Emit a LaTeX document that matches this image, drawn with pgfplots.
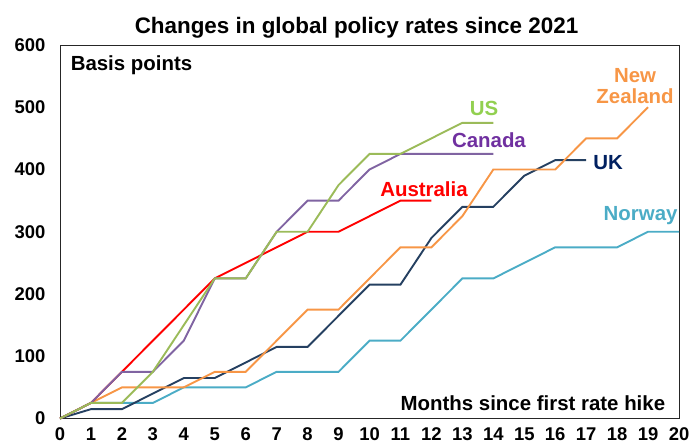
\documentclass[border=0pt]{standalone}
\usepackage{pgfplots}
\pgfplotsset{compat=1.18}
\usepackage{fontspec}
\setmainfont{Liberation Sans}
\definecolor{cUS}{HTML}{9BBB59}
\definecolor{cUSt}{HTML}{92D050}
\definecolor{cCA}{HTML}{8064A2}
\definecolor{cCAt}{HTML}{7030A0}
\definecolor{cAU}{HTML}{FF0000}
\definecolor{cNZ}{HTML}{F79646}
\definecolor{cUK}{HTML}{254061}
\definecolor{cUKt}{HTML}{002060}
\definecolor{cNO}{HTML}{4BACC6}
\tikzset{labelnode/.style={anchor=base, font=\fontsize{20.5}{24}\selectfont\bfseries, inner sep=0pt}}
\begin{document}
\begin{tikzpicture}
\path[use as bounding box] (0,0) rectangle (692bp,448bp);
\begin{axis}[
  at={(60bp,29.5bp)}, anchor=south west,
  scale only axis, width=619bp, height=373.5bp,
  xmin=0, xmax=20, ymin=0, ymax=600,
  xtick={0,1,...,20}, ytick={0,100,...,600},
  major tick length=0pt,
  axis line style={black!85, line width=0.8bp},
  /pgf/number format/assume math mode=true,
  ticklabel style={font=\fontsize{18.5}{22}\selectfont\bfseries},
  yticklabel style={xshift=-11bp},
  xticklabel style={yshift=-8bp, inner ysep=1bp},
  clip=false,
  every axis plot/.append style={line width=1.9bp, mark=none},
]
\addplot[cNO] coordinates {(0,0)(1,25)(2,25)(3,25)(4,50)(5,50)(6,50)(7,75)(8,75)(9,75)(10,125)(11,125)(12,175)(13,225)(14,225)(15,250)(16,275)(17,275)(18,275)(19,300)(20,300)};
\addplot[cUK] coordinates {(0,0)(1,15)(2,15)(3,40)(4,65)(5,65)(6,90)(7,115)(8,115)(9,165)(10,215)(11,215)(12,290)(13,340)(14,340)(15,390)(16,415)(17,415)};
\addplot[cNZ] coordinates {(0,0)(1,25)(2,50)(3,50)(4,50)(5,75)(6,75)(7,125)(8,175)(9,175)(10,225)(11,275)(12,275)(13,325)(14,400)(15,400)(16,400)(17,450)(18,450)(19,500)};
\addplot[cAU] coordinates {(0,0)(1,25)(2,75)(3,125)(4,175)(5,225)(6,250)(7,275)(8,300)(9,300)(10,325)(11,350)(12,350)};
\addplot[cCA] coordinates {(0,0)(1,25)(2,75)(3,75)(4,125)(5,225)(6,225)(7,300)(8,350)(9,350)(10,400)(11,425)(12,425)(13,425)(14,425)};
\addplot[cUS] coordinates {(0,0)(1,25)(2,25)(3,75)(4,150)(5,225)(6,225)(7,300)(8,300)(9,375)(10,425)(11,425)(12,450)(13,475)(14,475)};
\node[labelnode, text=cUSt] at (axis cs:13.70,487.5) {US};
\node[labelnode, text=cCAt] at (axis cs:13.86,436.1) {Canada};
\node[labelnode, text=cNZ] at (axis cs:18.58,540.5) {New};
\node[labelnode, text=cNZ] at (axis cs:18.58,506.8) {Zealand};
\node[labelnode, text=cUKt] at (axis cs:17.71,399.2) {UK};
\node[labelnode, text=cAU] at (axis cs:11.76,357.4) {Australia};
\node[labelnode, text=cNO] at (axis cs:18.76,317.3) {Norway};
\node[labelnode, text=black] at (axis cs:2.31,559.8) {Basis points};
\node[labelnode, text=black] at (axis cs:15.28,13.65) {Months since first rate hike};
\node[anchor=base, inner sep=0pt, font=\fontsize{22.5}{27}\selectfont\bfseries] at (rel axis cs:0.479,1.032) {Changes in global policy rates since 2021};
\end{axis}
\end{tikzpicture}
\end{document}
